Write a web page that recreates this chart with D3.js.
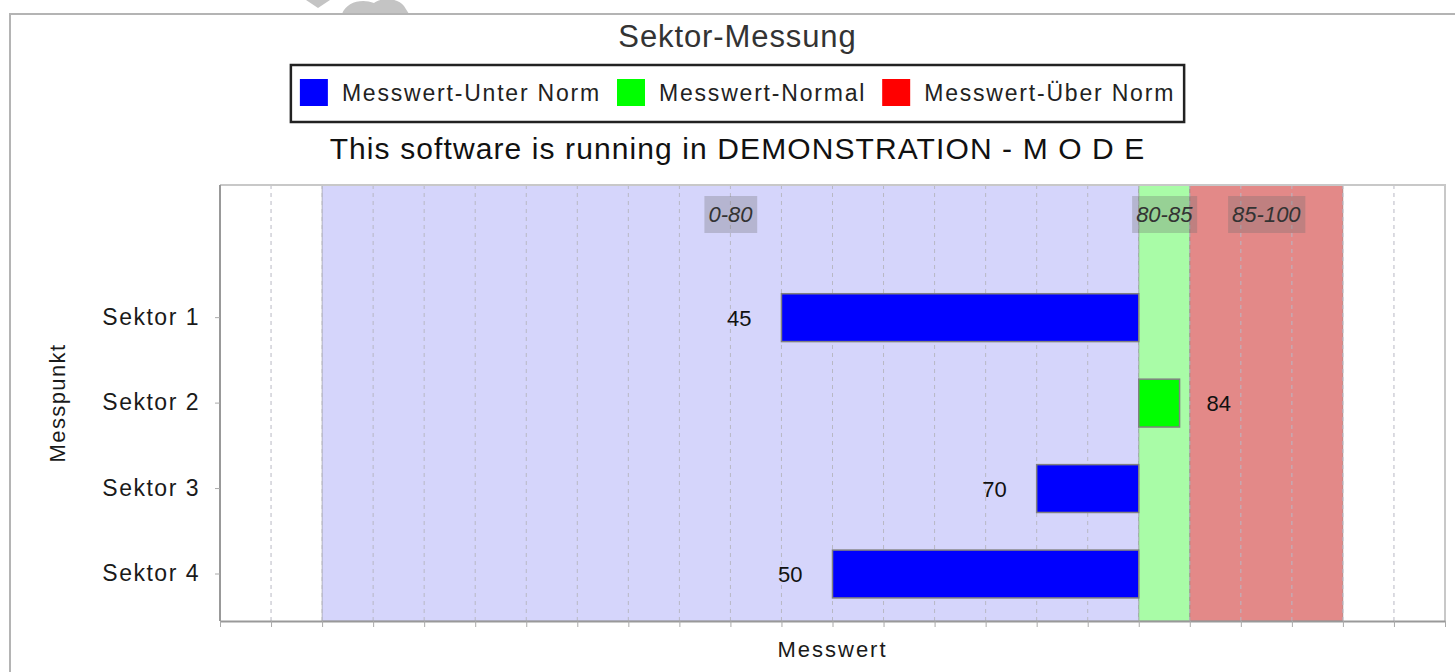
<!DOCTYPE html>
<html>
<head>
<meta charset="utf-8">
<script src="https://cdn.jsdelivr.net/npm/d3@7"></script>
<style>
  html, body { margin: 0; padding: 0; background: #fff; }
  svg { display: block; }
  text { font-family: "Liberation Sans", Arial, sans-serif; }
</style>
</head>
<body>
<svg id="chart" width="1455" height="672"></svg>
<script>
// ---- data ----
const categories = ["Sektor 1", "Sektor 2", "Sektor 3", "Sektor 4"];
const values = [45, 84, 70, 50];
const baseValue = 80;
const seriesNames = ["Messwert-Unter Norm", "Messwert-Normal", "Messwert-Über Norm"];
const seriesColors = ["#0000ff", "#00ff00", "#ff0000"];
const bandLabels = ["0-80", "80-85", "85-100"];
const bandStarts = [0, 80, 85];
const bandEnds = [80, 85, 100];
const bandColors = ["#d5d5fb", "#a9fca7", "#e38988"];
const xDomain = [-10, 110];
const gridStep = 5;
const titleText = "Sektor-Messung";
const subtitleText = "This software is running in DEMONSTRATION - M O D E";
const xAxisLabel = "Messwert";
const yAxisLabel = "Messpunkt";

// ---- layout ----
const W = 1455, H = 672;
const frame = { left: 10, top: 14 };
const plot = { left: 220, right: 1445, top: 185, bottom: 621 };
const centerX = (frame.left + 1465) / 2;

const svg = d3.select("#chart");

// watermark remnant (decorative)
const wm = svg.append("g").attr("fill", "#c4c4c4");
wm.append("path").attr("d", "M306,0 L330,0 L318,8 Z");
wm.append("path").attr("d", "M342,14 C346,2 362,-2 374,3 C382,-3 398,-2 404,6 L409,14 Z");

// outer frame
svg.append("path")
  .attr("d", `M${frame.left},${H} L${frame.left},${frame.top} L${W},${frame.top}`)
  .attr("fill", "none").attr("stroke", "#b4b4b4").attr("stroke-width", 2);

// title
svg.append("text").attr("x", centerX).attr("y", 47)
  .attr("text-anchor", "middle").attr("font-size", 31).attr("fill", "#333")
  .attr("letter-spacing", 0.9)
  .text(titleText);

// legend
const legend = svg.append("g");
const lgItems = legend.selectAll("g.item").data(seriesNames).join("g").attr("class", "item");
lgItems.append("rect").attr("width", 28).attr("height", 27).attr("y", 79)
  .attr("fill", (d, i) => seriesColors[i]);
lgItems.append("text").attr("y", 101).attr("font-size", 23).attr("fill", "#222")
  .attr("letter-spacing", 1.8)
  .text(d => d);
let cursor = 0;
const swatchGap = 14, itemGap = 16, pad = 9;
const positions = [];
lgItems.each(function () {
  const w = d3.select(this).select("text").node().getComputedTextLength();
  positions.push(cursor);
  cursor += 28 + swatchGap + w + itemGap;
});
const totalW = cursor - itemGap;
const lgLeft = centerX - totalW / 2;
lgItems.each(function (d, i) {
  const g = d3.select(this);
  g.select("rect").attr("x", lgLeft + positions[i]);
  g.select("text").attr("x", lgLeft + positions[i] + 28 + swatchGap);
});
legend.insert("rect", ":first-child")
  .attr("x", lgLeft - pad).attr("y", 65)
  .attr("width", totalW + 2 * pad).attr("height", 57)
  .attr("fill", "#fff").attr("stroke", "#222").attr("stroke-width", 2.5);

// subtitle
svg.append("text").attr("x", centerX).attr("y", 159)
  .attr("text-anchor", "middle").attr("font-size", 30).attr("fill", "#111")
  .attr("letter-spacing", 1.1)
  .text(subtitleText);

// scales
const x = d3.scaleLinear().domain(xDomain).range([plot.left, plot.right]);
const catStep = (plot.bottom - plot.top) / 5.09;
const y = d3.scaleBand().domain(categories)
  .range([plot.top + catStep, plot.bottom])
  .paddingInner(0.44).paddingOuter(0.27);

// plot background
svg.append("rect").attr("x", plot.left).attr("y", plot.top)
  .attr("width", plot.right - plot.left).attr("height", plot.bottom - plot.top)
  .attr("fill", "#fff");

// bands
const bands = bandLabels.map((l, i) => ({ label: l, from: bandStarts[i], to: bandEnds[i], color: bandColors[i] }));
svg.append("g").selectAll("rect").data(bands).join("rect")
  .attr("x", d => x(d.from)).attr("width", d => x(d.to) - x(d.from))
  .attr("y", plot.top).attr("height", plot.bottom - plot.top)
  .attr("fill", d => d.color)
  .attr("stroke", "rgba(120,120,120,0.45)").attr("stroke-width", 1);

// gridlines
const gridVals = d3.range(xDomain[0] + gridStep, xDomain[1], gridStep);
svg.append("g").selectAll("line").data(gridVals).join("line")
  .attr("x1", d => x(d)).attr("x2", d => x(d))
  .attr("y1", plot.top).attr("y2", plot.bottom)
  .attr("stroke", "#b8b8c4").attr("stroke-width", 1).attr("stroke-dasharray", "4,4");

// band labels
const bl = svg.append("g").selectAll("g").data(bands).join("g");
bl.append("text")
  .attr("x", d => x((d.from + d.to) / 2)).attr("y", 222)
  .attr("text-anchor", "middle").attr("font-size", 22).attr("font-style", "italic")
  .attr("fill", "#333").text(d => d.label);
bl.each(function () {
  const g = d3.select(this);
  const bb = g.select("text").node().getBBox();
  g.insert("rect", "text")
    .attr("x", bb.x - 4).attr("y", 196).attr("width", bb.width + 8).attr("height", 37)
    .attr("fill", "rgba(110,110,110,0.3)");
});

// bars
const bars = categories.map((c, i) => ({ cat: c, v: values[i] }));
const colorOf = v => v < bandEnds[0] ? seriesColors[0] : (v <= bandEnds[1] ? seriesColors[1] : seriesColors[2]);
svg.append("g").selectAll("rect").data(bars).join("rect")
  .attr("x", d => x(Math.min(d.v, baseValue)))
  .attr("width", d => Math.abs(x(d.v) - x(baseValue)))
  .attr("y", d => y(d.cat)).attr("height", y.bandwidth())
  .attr("fill", d => colorOf(d.v))
  .attr("stroke", "#808080").attr("stroke-width", 1.5);

// value labels
svg.append("g").selectAll("text").data(bars).join("text")
  .attr("x", d => d.v < baseValue ? x(d.v) - 30 : x(d.v) + 27)
  .attr("y", d => y(d.cat) + y.bandwidth() / 2 + 8)
  .attr("text-anchor", d => d.v < baseValue ? "end" : "start")
  .attr("font-size", 22).attr("fill", "#111")
  .text(d => d.v);

// plot border (top/right light)
svg.append("path")
  .attr("d", `M${plot.left},${plot.top} L${plot.right},${plot.top} L${plot.right},${plot.bottom}`)
  .attr("fill", "none").attr("stroke", "#c8c8c8").attr("stroke-width", 2);

// x axis (ticks, no labels)
const xAxis = d3.axisBottom(x)
  .tickValues(d3.range(xDomain[0], xDomain[1] + 0.01, gridStep))
  .tickSize(6).tickSizeOuter(0).tickFormat("");
const gx = svg.append("g").attr("transform", `translate(0,${plot.bottom})`).call(xAxis);
gx.select(".domain").attr("stroke", "#999").attr("stroke-width", 2);
gx.selectAll(".tick line").attr("stroke", "#aaa");

// y axis
const yAxis = d3.axisLeft(y).tickSize(5).tickSizeOuter(0).tickPadding(15);
const gy = svg.append("g").attr("transform", `translate(${plot.left},0)`).call(yAxis);
gy.select(".domain").attr("stroke", "#999").attr("stroke-width", 2)
  .attr("d", `M0,${plot.top}V${plot.bottom}`);
gy.selectAll(".tick line").attr("stroke", "#aaa");
gy.selectAll(".tick text").attr("font-size", 23).attr("fill", "#1a1a1a")
  .attr("letter-spacing", 1.5)
  .attr("font-family", "'Liberation Sans', Arial, sans-serif");

// axis labels
svg.append("text").attr("x", (plot.left + plot.right) / 2).attr("y", 657)
  .attr("text-anchor", "middle").attr("font-size", 22).attr("fill", "#1a1a1a")
  .attr("letter-spacing", 2)
  .text(xAxisLabel);
svg.append("text")
  .attr("transform", `translate(65,${(plot.top + plot.bottom) / 2}) rotate(-90)`)
  .attr("text-anchor", "middle").attr("font-size", 22).attr("fill", "#1a1a1a")
  .attr("letter-spacing", 1.4)
  .text(yAxisLabel);
</script>
</body>
</html>
